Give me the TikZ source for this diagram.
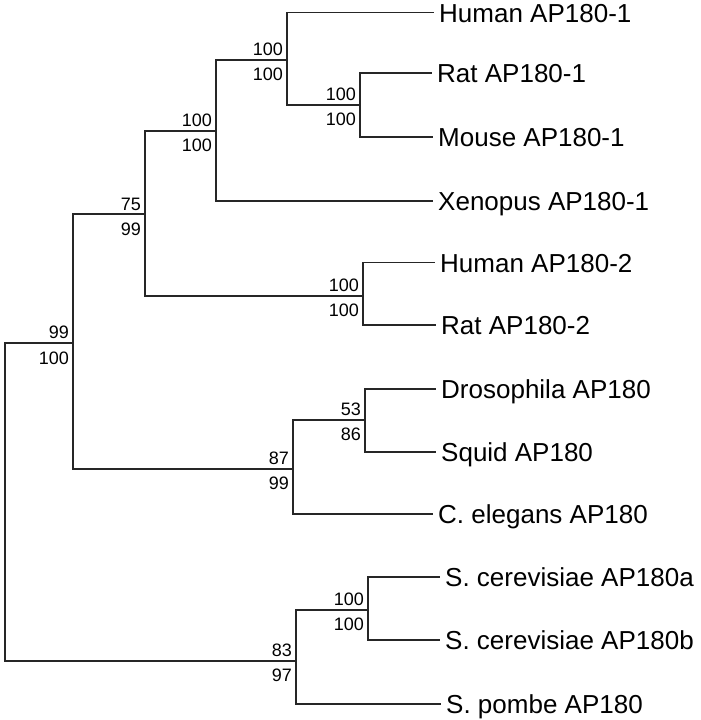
\documentclass[tikz,border=0pt]{standalone}
\usepackage{fontspec}
\setmainfont{Liberation Sans}
\begin{document}
\begin{tikzpicture}[x=1pt,y=-1pt,
  br/.style={draw=black!85,line width=1.1pt},
  leaf/.style={anchor=west,inner xsep=5pt,inner ysep=0pt,font=\fontsize{26}{28}\selectfont,text height=18.6pt,text depth=0pt},
  bst/.style={anchor=base east,inner sep=0pt,font=\fontsize{18}{20}\selectfont},
]
\useasboundingbox (0,0) rectangle (701,720);
% internal nodes
\coordinate (root) at (5,500);
\coordinate (nD) at (73,343);
\coordinate (nC) at (145,214);
\coordinate (nB) at (216,131);
\coordinate (nA) at (287,60);
\coordinate (nRM) at (360,105);
\coordinate (nH2) at (363,296);
\coordinate (nE) at (293,469);
\coordinate (nDS) at (365,420);
\coordinate (nF) at (296,661);
\coordinate (nSC) at (368,610);
% leaves
\node[leaf] (h1) at (434,12.7) {Human AP180-1};
\node[leaf] (r1) at (432,73) {Rat AP180-1};
\node[leaf] (m1) at (433,137) {Mouse AP180-1};
\node[leaf] (x1) at (433,201) {Xenopus AP180-1};
\node[leaf] (h2) at (435,262.7) {Human AP180-2};
\node[leaf] (r2) at (436,325) {Rat AP180-2};
\node[leaf] (dr) at (436,389) {Drosophila AP180};
\node[leaf] (sq) at (436,452) {Squid AP180};
\node[leaf] (ce) at (433,514) {C. elegans AP180};
\node[leaf] (sa) at (440,577) {S. cerevisiae AP180a};
\node[leaf] (sb) at (440,640) {S. cerevisiae AP180b};
\node[leaf] (sp) at (441,704) {S. pombe AP180};
% branches
\draw[br] (root) |- (nD);
\draw[br] (root) |- (nF);
\draw[br] (nD) |- (nC);
\draw[br] (nD) |- (nE);
\draw[br] (nC) |- (nB);
\draw[br] (nC) |- (nH2);
\draw[br] (nB) |- (nA);
\draw[br] (nB) |- (x1.west);
\draw[br] (nA) |- (h1.west);
\draw[br] (nA) |- (nRM);
\draw[br] (nRM) |- (r1.west);
\draw[br] (nRM) |- (m1.west);
\draw[br] (nH2) |- (h2.west);
\draw[br] (nH2) |- (r2.west);
\draw[br] (nE) |- (nDS);
\draw[br] (nE) |- (ce.west);
\draw[br] (nDS) |- (dr.west);
\draw[br] (nDS) |- (sq.west);
\draw[br] (nF) |- (nSC);
\draw[br] (nF) |- (sp.west);
\draw[br] (nSC) |- (sa.west);
\draw[br] (nSC) |- (sb.west);
% bootstrap labels
\node[bst] (lA1) at ([xshift=-4pt,yshift=4.5pt]nA) {100};
\node[bst] (lA2) at ([xshift=-4pt,yshift=-20pt]nA) {100};
\node[bst] (lRM1) at ([xshift=-4pt,yshift=4.5pt]nRM) {100};
\node[bst] (lRM2) at ([xshift=-4pt,yshift=-20pt]nRM) {100};
\node[bst] (lB1) at ([xshift=-4pt,yshift=4.5pt]nB) {100};
\node[bst] (lB2) at ([xshift=-4pt,yshift=-20pt]nB) {100};
\node[bst] (lC1) at ([xshift=-4pt,yshift=4pt]nC) {75};
\node[bst] (lC2) at ([xshift=-4pt,yshift=-21pt]nC) {99};
\node[bst] (lH1) at ([xshift=-4pt,yshift=4.5pt]nH2) {100};
\node[bst] (lH2) at ([xshift=-4pt,yshift=-20pt]nH2) {100};
\node[bst] (lD1) at ([xshift=-4pt,yshift=4.5pt]nD) {99};
\node[bst] (lD2) at ([xshift=-4pt,yshift=-21pt]nD) {100};
\node[bst] (lE1) at ([xshift=-4pt,yshift=4.5pt]nE) {87};
\node[bst] (lE2) at ([xshift=-4pt,yshift=-20pt]nE) {99};
\node[bst] (lDS1) at ([xshift=-4pt,yshift=4.5pt]nDS) {53};
\node[bst] (lDS2) at ([xshift=-4pt,yshift=-20pt]nDS) {86};
\node[bst] (lF1) at ([xshift=-4pt,yshift=4.5pt]nF) {83};
\node[bst] (lF2) at ([xshift=-4pt,yshift=-20pt]nF) {97};
\node[bst] (lSC1) at ([xshift=-4pt,yshift=4.5pt]nSC) {100};
\node[bst] (lSC2) at ([xshift=-4pt,yshift=-20pt]nSC) {100};
\end{tikzpicture}
\end{document}
